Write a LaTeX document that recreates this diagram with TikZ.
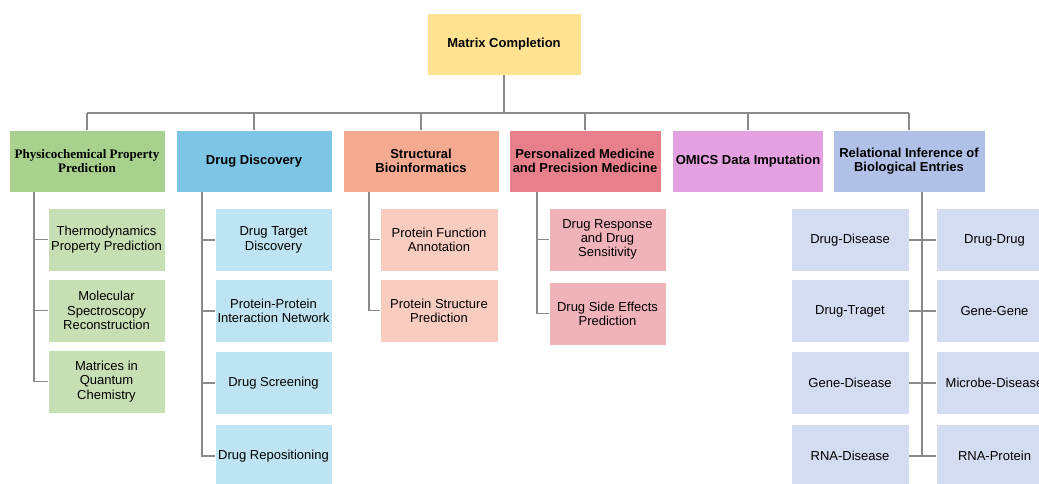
\documentclass[tikz,border=0pt]{standalone}
\usepackage{fontspec}
\setmainfont{Liberation Sans}
\newfontfamily\serifbold{Liberation Serif}
\definecolor{rootc}{HTML}{FFE393}
\definecolor{gA}{HTML}{A9D18E}\definecolor{gB}{HTML}{C6E0B4}
\definecolor{bA}{HTML}{7CC5E5}\definecolor{bB}{HTML}{BEE3F2}
\definecolor{sA}{HTML}{F4AA91}\definecolor{sB}{HTML}{F8CCBE}
\definecolor{pA}{HTML}{E8808C}\definecolor{pB}{HTML}{F1B3BA}
\definecolor{mA}{HTML}{E3A1E1}
\definecolor{lA}{HTML}{B0C0E6}\definecolor{lB}{HTML}{D3DCF0}
\definecolor{wire}{HTML}{8A8A8A}
\begin{document}
\begin{tikzpicture}[x=1pt,y=-1pt,
  every node/.style={font=\fontsize{13}{14.3}\selectfont, align=center, inner sep=1pt, text=black},
  box/.style={rectangle, draw=white, line width=0.6pt, minimum height=62pt},
  cat/.style={box, font=\fontsize{13}{14.3}\selectfont\bfseries, minimum width=156pt},
  leaf/.style={box, minimum width=117pt, minimum height=63pt},
  conn/.style={draw=wire, line width=1.5pt}]
\useasboundingbox (0,0) rectangle (1039,483);

% root
\node[cat, fill=rootc, minimum width=154pt] (root) at (504,44) {Matrix Completion};

% categories
\node[cat, fill=gA] (c1) at (87,161) {\serifbold\bfseries Physicochemical Property\\\serifbold\bfseries Prediction};
\node[cat, fill=bA] (c2) at (254,161) {Drug Discovery};
\node[cat, fill=sA] (c3) at (421,161) {Structural\\Bioinformatics};
\node[cat, fill=pA, minimum width=152pt] (c4) at (585,161) {Personalized Medicine\\and Precision Medicine};
\node[cat, fill=mA, minimum width=151pt] (c5) at (748,161) {OMICS Data Imputation};
\node[cat, fill=lA, minimum width=152pt] (c6) at (909,161) {Relational Inference of\\Biological Entries};

% bus from root to categories
\coordinate (bus) at (504,113);
\draw[conn] (root.south) -- (root.south |- bus);
\draw[conn] (c1.north |- bus) -- (c6.north |- bus);
\foreach \c in {c1,c2,c3,c4,c5,c6} \draw[conn] (\c.north) -- (\c.north |- bus);

% physicochemical leaves
\node[leaf, fill=gB] (k11) at (106.5,239.5) {Thermodynamics\\Property Prediction};
\node[leaf, fill=gB] (k12) at (106.5,310.5) {Molecular\\Spectroscopy\\Reconstruction};
\node[leaf, fill=gB] (k13) at (106.5,381.5) {Matrices in\\Quantum\\Chemistry};
\coordinate (s1) at (34,192);
\foreach \k in {k11,k12,k13} \draw[conn] (s1) |- (\k.west);

% drug discovery leaves
\node[leaf, fill=bB] (k21) at (273.5,240) {Drug Target\\Discovery};
\node[leaf, fill=bB] (k22) at (273.5,311) {Protein-Protein\\Interaction Network};
\node[leaf, fill=bB] (k23) at (273.5,383) {Drug Screening};
\node[leaf, fill=bB] (k24) at (273.5,456) {Drug Repositioning};
\coordinate (s2) at (202,192);
\foreach \k in {k21,k22,k23,k24} \draw[conn] (s2) |- (\k.west);

% structural leaves
\node[leaf, fill=sB, minimum width=118pt] (k31) at (439,239.5) {Protein Function\\Annotation};
\node[leaf, fill=sB, minimum width=118pt] (k32) at (439,310.5) {Protein Structure\\Prediction};
\coordinate (s3) at (369,192);
\foreach \k in {k31,k32} \draw[conn] (s3) |- (\k.west);

% personalized medicine leaves
\node[leaf, fill=pB] (k41) at (607.5,239.5) {Drug Response\\and Drug\\Sensitivity};
\node[leaf, fill=pB] (k42) at (607.5,313.5) {Drug Side Effects\\Prediction};
\coordinate (s4) at (537,192);
\foreach \k in {k41,k42} \draw[conn] (s4) |- (\k.west);

% relational inference leaves, two columns around one spine
\node[leaf, fill=lB, minimum width=118pt] (l1) at (850,240) {Drug-Disease};
\node[leaf, fill=lB, minimum width=118pt] (l2) at (850,311) {Drug-Traget};
\node[leaf, fill=lB, minimum width=118pt] (l3) at (850,383) {Gene-Disease};
\node[leaf, fill=lB, minimum width=118pt] (l4) at (850,456) {RNA-Disease};
\node[leaf, fill=lB] (r1) at (994.5,240) {Drug-Drug};
\node[leaf, fill=lB] (r2) at (994.5,311) {Gene-Gene};
\node[leaf, fill=lB] (r3) at (994.5,383) {Microbe-Disease};
\node[leaf, fill=lB] (r4) at (994.5,456) {RNA-Protein};
\coordinate (s6) at (922,192);
\foreach \k in {l1,l2,l3,l4} \draw[conn] (s6) |- (\k.east);
\foreach \k in {r1,r2,r3,r4} \draw[conn] (s6) |- (\k.west);
\end{tikzpicture}
\end{document}
